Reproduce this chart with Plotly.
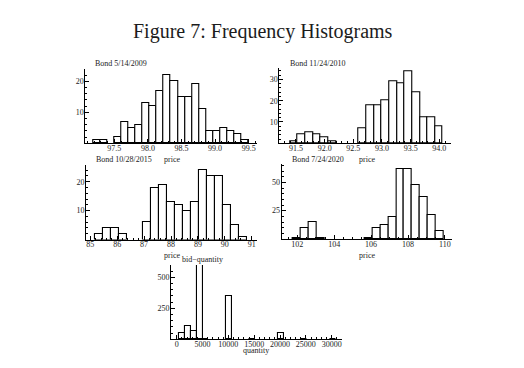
import plotly.graph_objects as go

W, H = 524, 368

# ---------------- data ----------------
# Bond 5/14/2009 : price histogram
b2009_bin_start = 97.18
b2009_bin_width = 0.1055
b2009_counts = [1, 1, 0, 2, 7, 5, 6, 13, 12, 17, 22, 20, 15, 15, 19, 11, 4, 4, 5, 4, 3, 1]
b2009_ticks = [97.5, 98.0, 98.5, 99.0, 99.5]

# Bond 11/24/2010 : price histogram
b2010_bin_start = 91.395
b2010_bin_width = 0.1333
b2010_counts = [1, 4, 5, 4, 3, 1, 0, 0, 0, 7, 18, 18, 20, 29, 28, 34, 24, 12, 12, 8]
b2010_ticks = [91.5, 92.0, 92.5, 93.0, 93.5, 94.0]

# Bond 10/28/2015 : price histogram
b2015_bin_start = 85.16
b2015_bin_width = 0.298
b2015_counts = [2, 4, 4, 2, 0, 0, 6, 18, 19, 13, 12, 10, 13, 24, 22, 22, 12, 5, 1]
b2015_ticks = [85, 86, 87, 88, 89, 90, 91]

# Bond 7/24/2020 : price histogram
b2020_bin_start = 101.77
b2020_bin_width = 0.43
b2020_counts = [1, 10, 15, 1, 0, 0, 0, 0, 0, 1, 10, 12, 19, 62, 62, 48, 37, 21, 7]
b2020_ticks = [102, 104, 106, 108, 110]

# bid-quantity histogram
qty_bin_start = 530
qty_bin_width = 1120
qty_counts = [50, 105, 65, 600, 5, 0, 0, 0, 350, 0, 0, 0, 5, 0, 0, 0, 0, 50,
              0, 0, 0, 4, 0, 0, 0, 0, 5]
qty_ticks = [0, 5000, 10000, 15000, 20000, 25000, 30000]

panel_titles = ["Bond 5/14/2009", "Bond 11/24/2010", "Bond 10/28/2015",
                "Bond 7/24/2020", "bid\u2212quantity"]
x_titles = ["price", "price", "price", "price", "quantity"]
fig_title = "Figure 7: Frequency Histograms"

# ---------------- layout helpers ----------------
def px_x(p):
    return p / W

def px_y(p):
    return 1 - p / H

FONT = "Liberation Serif"
INK = "#1c1c1c"

# panel geometry in pixels: (left, right, top, bottom), ranges, ticks
panels = [
    dict(start=b2009_bin_start, width=b2009_bin_width, counts=b2009_counts,
         box=(85.3, 256.7, 69, 143.3), xr=[97.068, 99.62], yr=[0, 24.0],
         xt=b2009_ticks, xfmt=".1f", xminor=0.1, yt=[10, 20], yminor=2,
         title_pos=(93, 63), xlab_pos=(171.7, 159)),
    dict(start=b2010_bin_start, width=b2010_bin_width, counts=b2010_counts,
         box=(279.3, 450.7, 68.3, 143.3), xr=[91.209, 94.199], yr=[0, 35.2],
         xt=b2010_ticks, xfmt=".1f", xminor=0.1, yt=[10, 20, 30], yminor=2,
         title_pos=(288, 63), xlab_pos=(366.7, 159)),
    dict(start=b2015_bin_start, width=b2015_bin_width, counts=b2015_counts,
         box=(86, 256.7, 165, 239.5), xr=[84.839, 91.186], yr=[0, 25.8],
         xt=b2015_ticks, xfmt="d", xminor=0.2, yt=[10, 20], yminor=2,
         title_pos=(94, 159.3), xlab_pos=(171.7, 255)),
    dict(start=b2020_bin_start, width=b2020_bin_width, counts=b2020_counts,
         box=(281.7, 452.3, 164, 239), xr=[101.153, 110.40], yr=[0, 66.2],
         xt=b2020_ticks, xfmt="d", xminor=0.5, yt=[25, 50], yminor=5,
         title_pos=(290, 159.3), xlab_pos=(366.7, 255)),
    dict(start=qty_bin_start, width=qty_bin_width, counts=qty_counts,
         box=(171, 341.7, 265, 339.3), xr=[-1103, 31935], yr=[0, 600],
         xt=qty_ticks, xfmt="d", xminor=1000, yt=[250, 500], yminor=50,
         title_pos=(180, 259.3), xlab_pos=(256, 350.5)),
]

fig = go.Figure()
annotations = []
layout_axes = {}

for i, p in enumerate(panels):
    n = len(p["counts"])
    centers = [p["start"] + p["width"] * (k + 0.5) for k in range(n)]
    ys = [c if c > 0 else None for c in p["counts"]]
    suffix = "" if i == 0 else str(i + 1)
    fig.add_trace(go.Bar(
        x=centers, y=ys, width=p["width"],
        marker=dict(color="white", line=dict(color="black", width=1.1)),
        xaxis="x" + suffix, yaxis="y" + suffix, showlegend=False,
        hoverinfo="skip",
    ))
    l, r, t, b = p["box"]
    tickfont = dict(family=FONT, size=8, color=INK)
    layout_axes["xaxis" + suffix] = dict(
        domain=[px_x(l), px_x(r)], range=p["xr"], anchor="y" + suffix,
        showline=True, linecolor="black", linewidth=1,
        ticks="inside", ticklen=4, tickwidth=1, tickcolor="black",
        tickvals=p["xt"], tickformat=p["xfmt"], tickfont=tickfont,
        ticklabelstandoff=-3,
        minor=dict(ticks="inside", ticklen=2, tickwidth=0.8,
                   tickcolor="black", dtick=p["xminor"], tick0=0, showgrid=False),
        showgrid=False, zeroline=False, fixedrange=True,
    )
    layout_axes["yaxis" + suffix] = dict(
        domain=[px_y(b), px_y(t)], range=p["yr"], anchor="x" + suffix,
        showline=True, linecolor="black", linewidth=1,
        ticks="inside", ticklen=4, tickwidth=1, tickcolor="black",
        tickvals=p["yt"], tickfont=tickfont, ticklabelstandoff=-1,
        minor=dict(ticks="inside", ticklen=2, tickwidth=0.8,
                   tickcolor="black", dtick=p["yminor"], tick0=0, showgrid=False),
        showgrid=False, zeroline=False, fixedrange=True,
    )
    tx, ty = p["title_pos"]
    annotations.append(dict(
        text=panel_titles[i], x=px_x(tx), y=px_y(ty), xref="paper", yref="paper",
        xanchor="left", yanchor="middle", showarrow=False,
        font=dict(family=FONT, size=8, color=INK)))
    lx, ly = p["xlab_pos"]
    annotations.append(dict(
        text=x_titles[i], x=px_x(lx), y=px_y(ly), xref="paper", yref="paper",
        xanchor="center", yanchor="middle", showarrow=False,
        font=dict(family=FONT, size=8, color=INK)))

annotations.append(dict(
    text=fig_title, x=px_x(263), y=px_y(32), xref="paper", yref="paper",
    xanchor="center", yanchor="middle", showarrow=False,
    font=dict(family=FONT, size=20, color=INK)))

fig.update_layout(
    width=W, height=H, margin=dict(l=0, r=0, t=0, b=0),
    paper_bgcolor="white", plot_bgcolor="white",
    annotations=annotations, showlegend=False, bargap=0,
    **layout_axes,
)

fig.write_html(
    "out.html",
    config={"displayModeBar": False},
    post_script="document.body.style.margin='0';document.body.style.padding='0';"
                "document.body.style.overflow='hidden';",
)
